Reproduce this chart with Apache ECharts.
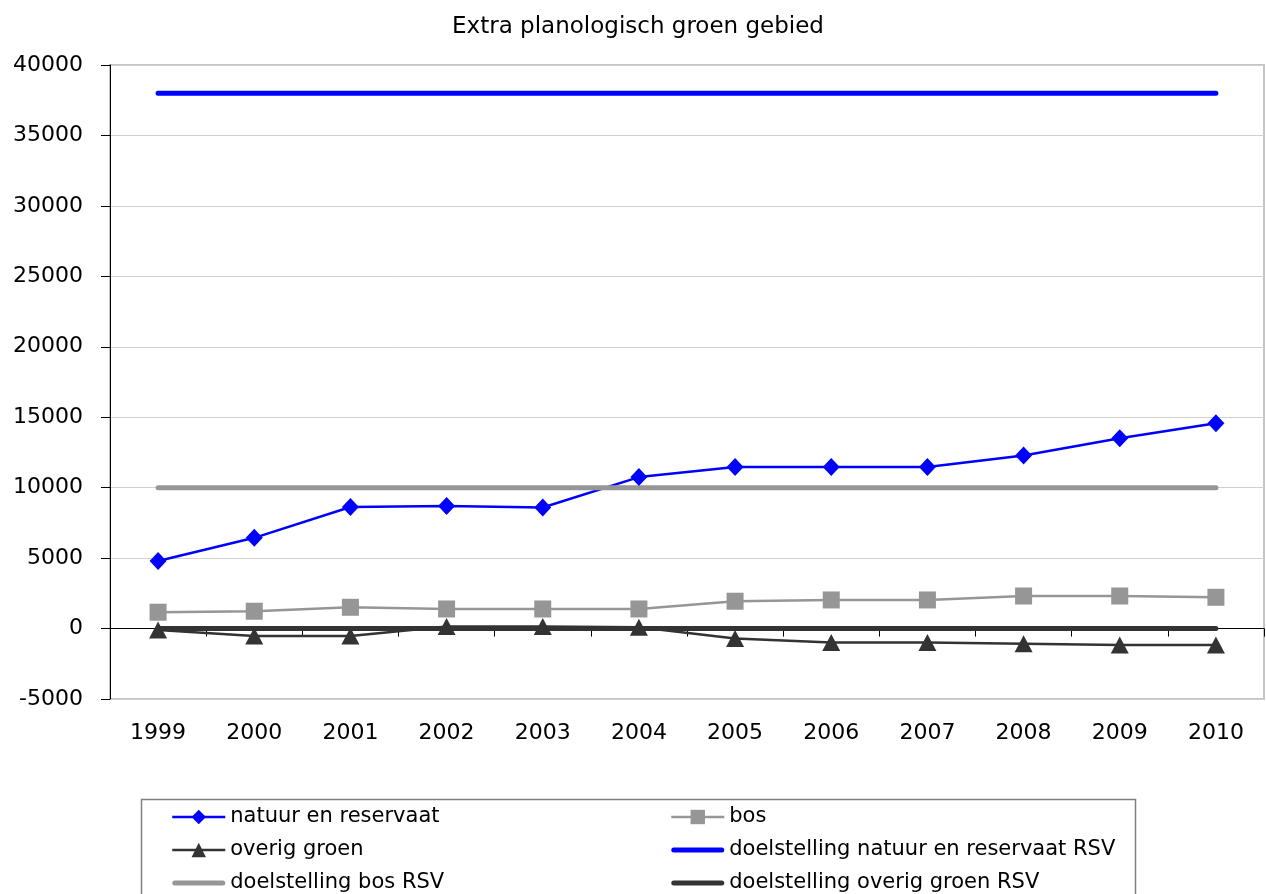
<!DOCTYPE html>
<html>
<head>
<meta charset="utf-8">
<script src="https://cdn.jsdelivr.net/npm/echarts@6/dist/echarts.min.js"></script>
<style>
html,body{margin:0;padding:0;background:#fff;}
#chart{width:1266px;height:894px;}
</style>
</head>
<body>
<div id="chart"></div>
<script>
const years = ['1999','2000','2001','2002','2003','2004','2005','2006','2007','2008','2009','2010'];
const natuur = [4790, 6440, 8630, 8700, 8590, 10750, 11470, 11470, 11470, 12280, 13510, 14570];
const bos = [1160, 1230, 1510, 1390, 1390, 1390, 1940, 2030, 2030, 2310, 2310, 2220];
const overig = [-100, -520, -520, 140, 140, 100, -710, -990, -990, -1080, -1170, -1170];
const doelNatuur = [38000, 38000, 38000, 38000, 38000, 38000, 38000, 38000, 38000, 38000, 38000, 38000];
const doelBos = [10000, 10000, 10000, 10000, 10000, 10000, 10000, 10000, 10000, 10000, 10000, 10000];
const doelOverig = [0, 0, 0, 0, 0, 0, 0, 0, 0, 0, 0, 0];
const yTicks = { min: -5000, max: 40000, interval: 5000 };

const FONT = 'DejaVu Sans';
const chart = echarts.init(document.getElementById('chart'), null, {renderer: 'canvas'});

const THICK_ICON = 'path://M2.5,0 H50.5 A2.5,2.5 0 0 1 50.5,5 H2.5 A2.5,2.5 0 0 1 2.5,0 Z';

function targetSeries(name, data, color) {
  return {
    name: name, type: 'line', data: data, xAxisIndex: 0,
    symbol: 'none', showSymbol: false,
    lineStyle: {color: color, width: 5, cap: 'round'},
    itemStyle: {color: color}
  };
}

const legendCommon = {
  orient: 'vertical', top: 806, itemGap: 11, itemWidth: 53, itemHeight: 18, padding: 0,
  textStyle: {fontFamily: FONT, fontSize: 21, color: '#000', lineHeight: 22},
  lineStyle: {width: 'inherit'},
  selectedMode: false
};

chart.setOption({
  animation: false,
  backgroundColor: '#fff',
  title: {
    text: 'Extra planologisch groen gebied',
    left: 633, textAlign: 'center', top: 11,
    textStyle: {fontFamily: FONT, fontSize: 23, fontWeight: 'normal', color: '#000'}
  },
  grid: {left: 110, right: 2, top: 65, bottom: 195, containLabel: false,
         show: true, borderColor: '#c4c4c4', borderWidth: 2, backgroundColor: 'transparent'},
  legend: [
    Object.assign({left: 171, data: [
      {name: 'natuur en reservaat'},
      {name: 'overig groen'},
      {name: 'doelstelling bos RSV', icon: THICK_ICON}
    ]}, legendCommon),
    Object.assign({left: 670, data: [
      {name: 'bos'},
      {name: 'doelstelling natuur en reservaat RSV', icon: THICK_ICON},
      {name: 'doelstelling overig groen RSV', icon: THICK_ICON}
    ]}, legendCommon)
  ],
  graphic: [{
    type: 'rect', left: 139, top: 797, silent: true,
    shape: {width: 994, height: 120},
    style: {fill: 'none', stroke: '#808080', lineWidth: 1.5}
  }],
  xAxis: [
    {
      type: 'category', data: years, boundaryGap: true,
      axisLine: {onZero: true, lineStyle: {color: '#000', width: 1}},
      axisTick: {show: true, length: 8, lineStyle: {color: '#000'}},
      axisLabel: {show: false},
      splitLine: {show: false}
    },
    {
      type: 'category', data: years, boundaryGap: true, position: 'bottom',
      axisLine: {show: false, onZero: false},
      axisTick: {show: false},
      axisLabel: {show: true, margin: 23, fontFamily: FONT, fontSize: 22, color: '#000'},
      splitLine: {show: false}
    }
  ],
  yAxis: {
    type: 'value', min: yTicks.min, max: yTicks.max, interval: yTicks.interval,
    axisLine: {show: true, lineStyle: {color: '#000', width: 1}},
    axisTick: {show: true, length: 9, lineStyle: {color: '#000'}},
    axisLabel: {margin: 27, fontFamily: FONT, fontSize: 22, color: '#000',
                formatter: function (v) { return String(v); }},
    splitLine: {show: true, lineStyle: {color: '#d0d0d0', width: 1}}
  },
  series: [
    {
      name: 'natuur en reservaat', type: 'line', data: natuur, xAxisIndex: 0,
      symbol: 'diamond', symbolSize: [17, 18],
      lineStyle: {color: '#0000ff', width: 2.5},
      itemStyle: {color: '#0000ff'}
    },
    {
      name: 'bos', type: 'line', data: bos, xAxisIndex: 0,
      symbol: 'rect', symbolSize: [17, 17],
      lineStyle: {color: '#969696', width: 2.5},
      itemStyle: {color: '#969696'}
    },
    {
      name: 'overig groen', type: 'line', data: overig, xAxisIndex: 0,
      symbol: 'triangle', symbolSize: [18, 17],
      lineStyle: {color: '#333333', width: 2.5},
      itemStyle: {color: '#333333'}
    },
    targetSeries('doelstelling natuur en reservaat RSV', doelNatuur, '#0000ff'),
    targetSeries('doelstelling bos RSV', doelBos, '#969696'),
    targetSeries('doelstelling overig groen RSV', doelOverig, '#333333')
  ]
});
</script>
</body>
</html>
